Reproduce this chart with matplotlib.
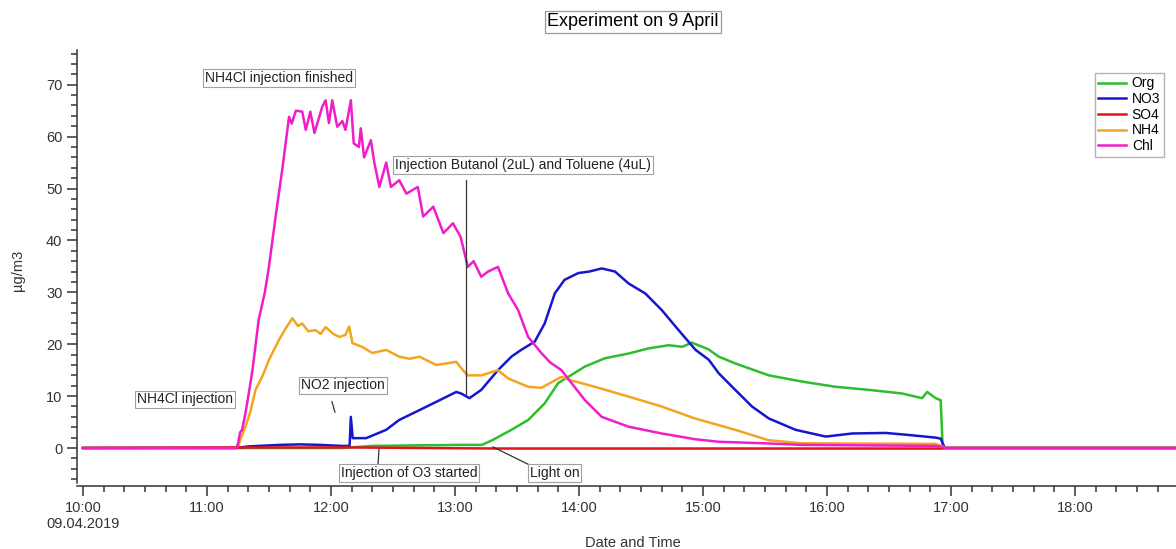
# %%
# Aerosol composition during the chamber experiment on 9 April 2019
import matplotlib.pyplot as plt
from matplotlib.ticker import MultipleLocator

plt.rcParams['font.family'] = ['Liberation Sans', 'DejaVu Sans']

# %%
# Data: minutes after 10:00 and concentration (ug/m3)
org_min = [0, 125, 140, 160, 183, 193, 198, 207.3, 215.4, 223.4,
           229.9, 234.8, 242.9, 252.6, 264, 273.7, 283.4, 290, 294.6, 302.7,
           307.6, 315.6, 331.8, 348, 364, 380.2, 396.4, 406, 408.5, 412.6,
           415, 416, 530]
org_val = [0, 0, 0.4, 0.5, 0.6, 0.6, 1.5, 3.5, 5.4, 8.6,
           12.5, 13.7, 15.7, 17.3, 18.2, 19.2, 19.8, 19.5, 20.3, 19,
           17.6, 16.3, 14, 12.8, 11.8, 11.2, 10.5, 9.6, 10.8, 9.6,
           9.2, 0, 0]

no3_min = [0, 74, 80, 95, 105, 115, 125, 129, 129.6, 130.5,
           137, 146.7, 153, 162.8, 172.5, 180.6, 183, 187, 192.7, 200.8,
           207.3, 212, 218.6, 223.4, 228.3, 233, 239.6, 245, 251, 257.4,
           264, 272, 280, 288.2, 296.4, 302.8, 307.6, 315.6, 323.7, 331.8,
           344.8, 359.4, 372.3, 388.5, 399.8, 412.6, 415, 417, 530]
no3_val = [0, 0, 0.3, 0.6, 0.7, 0.6, 0.4, 0.4, 6, 1.9,
           1.9, 3.5, 5.4, 7.3, 9.2, 10.8, 10.5, 9.6, 11.2, 15,
           17.6, 18.9, 20.5, 24, 29.8, 32.4, 33.7, 34, 34.6, 34,
           31.7, 29.8, 26.6, 22.7, 18.9, 17, 14.4, 11.2, 8, 5.7,
           3.5, 2.2, 2.8, 2.9, 2.5, 2.0, 1.8, 0, 0]

so4_min = [0, 75, 130, 200, 300, 416, 417, 530]
so4_val = [0, 0.1, 0.1, -0.1, -0.1, -0.1, 0, 0]

nh4_min = [0, 75, 76, 78.6, 81, 83.5, 87, 90, 94.8, 98,
           101.3, 104, 106, 109, 112.5, 115, 117.4, 121, 124, 127,
           128.8, 130.4, 135, 140, 146.7, 153, 158, 162.8, 170.9, 176,
           180.6, 183, 186, 192.7, 200.8, 205.7, 215.4, 221.8, 231.5, 235.6,
           247.6, 264, 280, 296, 307.6, 315.6, 331.7, 348, 412.6, 416,
           417, 530]
nh4_val = [0, 0, 1.5, 4.1, 7, 11.2, 14, 17, 20.8, 23,
           25, 23.5, 24, 22.5, 22.7, 22, 23.3, 22, 21.4, 21.8,
           23.4, 20.2, 19.5, 18.3, 18.9, 17.6, 17.2, 17.6, 16, 16.3,
           16.6, 15.4, 14, 14, 15, 13.4, 11.8, 11.6, 13.7, 13.1,
           11.8, 9.9, 8, 5.7, 4.4, 3.5, 1.5, 0.9, 0.8, 0.3,
           0, 0]

chl_min = [0, 74, 75, 76, 77, 78.6, 80, 82, 85, 88,
           90, 93.2, 96.4, 99.7, 101, 103, 106.1, 107.8, 110, 112,
           115.8, 117.4, 119, 120.6, 123, 125.5, 127, 129.6, 131, 133.5,
           134.4, 136, 139.3, 141, 143.4, 146.7, 149, 153, 156.5, 162,
           164.6, 169.5, 174.4, 179, 182.7, 186.2, 189, 192.7, 196, 200.8,
           205.7, 210.5, 215.4, 221.8, 226, 231.5, 236.4, 242.9, 251, 264,
           280, 296, 307.6, 330, 348, 380, 412.6, 416, 417, 530]
chl_val = [0, 0, 0.8, 3, 3.5, 6.7, 10, 15, 24.7, 30,
           35, 44.6, 53.6, 63.8, 62.5, 65, 64.8, 61.3, 64.8, 60.7,
           65.8, 67, 62.6, 67, 61.9, 63, 61.3, 67, 58.7, 58,
           61.6, 56, 59.3, 54.9, 50.3, 55, 50.3, 51.6, 49, 50.3,
           44.6, 46.5, 41.4, 43.3, 40.7, 34.9, 36, 33, 34, 34.9,
           29.8, 26.6, 21.4, 18.3, 16.5, 15, 12.5, 9.2, 6, 4.1,
           2.8, 1.7, 1.2, 0.9, 0.6, 0.5, 0.4, 0.2, 0, 0]

tick_hours = [10, 11, 12, 13, 14, 15, 16, 17, 18]
tick_labels = ['10:00\n09.04.2019', '11:00', '12:00', '13:00', '14:00',
               '15:00', '16:00', '17:00', '18:00']


def hrs(minutes):
    return [10 + m / 60 for m in minutes]


# %%
# Plot
W, H = 1176, 549
fig = plt.figure(figsize=(W / 100, H / 100), dpi=100)
ax = fig.add_axes([77 / W, 1 - 483 / H, 1 - 77 / W, (483 - 50) / H])

l_org, = ax.plot(hrs(org_min), org_val, color='#2dbd2d', lw=1.8, label='Org')
l_no3, = ax.plot(hrs(no3_min), no3_val, color='#1616d2', lw=1.8, label='NO3')
l_nh4, = ax.plot(hrs(nh4_min), nh4_val, color='#f2a51e', lw=1.8, label='NH4')
l_so4, = ax.plot(hrs(so4_min), so4_val, color='#e5121c', lw=1.8, label='SO4')
l_chl, = ax.plot(hrs(chl_min), chl_val, color='#f01ec8', lw=1.8, label='Chl')

ax.set_xlim(10 - 6 / 124, 10 + (W - 83) / 124)
ax.set_ylim((448 - 483) / 5.19, (448 - 50) / 5.19)

for s in ['top', 'right']:
    ax.spines[s].set_visible(False)
ax.spines['bottom'].set_position(('outward', 2.2))
for s in ['left', 'bottom']:
    ax.spines[s].set_linewidth(1.1)
    ax.spines[s].set_color('#333333')

ax.set_xticks(tick_hours)
ax.set_xticklabels(tick_labels)
ax.xaxis.set_minor_locator(MultipleLocator(1 / 6))
ax.yaxis.set_major_locator(MultipleLocator(10))
ax.yaxis.set_minor_locator(MultipleLocator(2))
ax.tick_params(which='major', direction='out', length=7.5, width=1.1,
               colors='#333333', labelsize=10.5, labelcolor='#333333')
ax.tick_params(which='minor', direction='out', length=4, width=1.1,
               colors='#333333')
ax.tick_params(axis='x', which='major', pad=3)
ax.tick_params(axis='y', which='major', pad=3)

fig.text(18 / W, 1 - 270 / H, 'µg/m3', rotation=90, ha='center',
         va='center', fontsize=10.5, color='#333333')
fig.text(633 / W, 1 - 543 / H, 'Date and Time', ha='center', va='center',
         fontsize=10.5, color='#333333')
fig.text(633 / W, 1 - 22 / H, 'Experiment on 9 April', ha='center',
         va='center', fontsize=13,
         bbox=dict(facecolor='white', edgecolor='#999999', lw=0.9,
                   boxstyle='square,pad=0.12'))

# %%
# Annotations (time in hours, value in ug/m3)
box = dict(facecolor='white', edgecolor='#a0a0a0', lw=0.8,
           boxstyle='square,pad=0.12')
notes = [
    ('NH4Cl injection finished', 11.581, 71.3),
    ('Injection Butanol (2uL) and Toluene (4uL)', 13.548, 54.5),
    ('NH4Cl injection', 10.823, 9.4),
    ('NO2 injection', 12.097, 12.1),
    ('Injection of O3 started', 12.629, -4.8),
    ('Light on', 13.806, -4.8),
]
for txt, xh, yv in notes:
    ax.text(xh, yv, txt, ha='center', va='center', fontsize=10,
            color='#222222', bbox=box, zorder=5)

leaders = [
    ([13.089, 13.089], [51.6, 10.4]),
    ([12.008, 12.032], [8.9, 6.9]),
    ([12.387, 12.379], [-0.2, -3.3]),
    ([13.306, 13.621], [0.2, -3.5]),
]
for xs, ys in leaders:
    ax.plot(xs, ys, color='#333333', lw=0.9, zorder=4)

fig.legend(handles=[l_org, l_no3, l_so4, l_nh4, l_chl],
           loc='upper left', bbox_to_anchor=(1095 / W, 1 - 73 / H),
           fontsize=10, frameon=True, fancybox=False, edgecolor='#a0a0a0',
           handlelength=2.0, handletextpad=0.4, borderpad=0.25,
           labelspacing=0.12, borderaxespad=0)

fig.savefig('out.png', dpi=100)
